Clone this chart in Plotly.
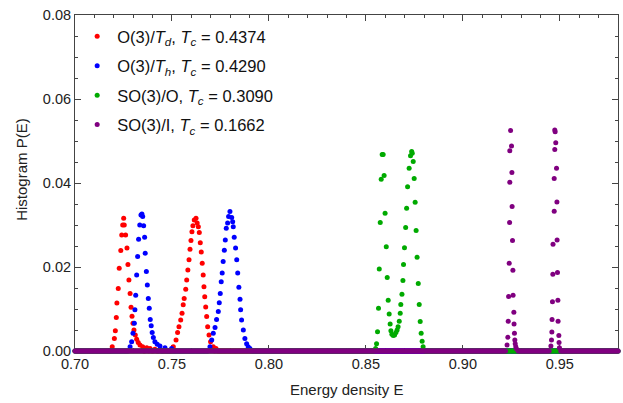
import numpy as np
import plotly.graph_objects as go

# Histogram bins span the whole energy window; bins not listed below hold P(E) = 0
E_MIN, E_MAX, BIN_W = 0.700, 0.980, 0.0005

names = [
    "O(3)/<i>T</i><sub><i>d</i></sub>, <i>T</i><sub><i>c</i></sub> = 0.4374",
    "O(3)/<i>T</i><sub><i>h</i></sub>, <i>T</i><sub><i>c</i></sub> = 0.4290",
    "SO(3)/O, <i>T</i><sub><i>c</i></sub> = 0.3090",
    "SO(3)/I, <i>T</i><sub><i>c</i></sub> = 0.1662",
]
colors = ["#ff0000", "#0000ff", "#00aa00", "#800080"]

# O(3)/T_d : non-empty bins
td_E = [0.7192, 0.7203, 0.7208, 0.7213, 0.7216, 0.7223, 0.7228, 0.7236, 0.7241, 0.7246,
        0.7251, 0.7254, 0.7261, 0.7268, 0.7273, 0.7278, 0.7284, 0.7289, 0.7294, 0.7299,
        0.7304, 0.7311, 0.7318, 0.7326, 0.7335, 0.7349, 0.7370, 0.7387, 0.7412, 0.7438,
        0.7507, 0.7521, 0.7529, 0.7536, 0.7545, 0.7552, 0.7558, 0.7563, 0.7571, 0.7576,
        0.7582, 0.7588, 0.7593, 0.7598, 0.7603, 0.7608, 0.7615, 0.7624, 0.7630, 0.7636,
        0.7641, 0.7646, 0.7651, 0.7656, 0.7661, 0.7665, 0.7669, 0.7674, 0.7679, 0.7684,
        0.7691, 0.7699, 0.7713, 0.7727]
td_P = [0.0010, 0.0030, 0.0048, 0.0080, 0.0114, 0.0149, 0.0197, 0.0239, 0.0276, 0.0300,
        0.0316, 0.0300, 0.0276, 0.0245, 0.0206, 0.0169, 0.0137, 0.0104, 0.0083, 0.0066,
        0.0050, 0.0038, 0.0028, 0.0020, 0.0014, 0.0010, 0.0008, 0.0006, 0.0004, 0.0002,
        0.0010, 0.0026, 0.0044, 0.0058, 0.0074, 0.0090, 0.0110, 0.0125, 0.0147, 0.0169,
        0.0193, 0.0217, 0.0242, 0.0263, 0.0284, 0.0298, 0.0312, 0.0316, 0.0305, 0.0296,
        0.0282, 0.0258, 0.0236, 0.0209, 0.0181, 0.0153, 0.0129, 0.0105, 0.0082, 0.0058,
        0.0038, 0.0022, 0.0010, 0.0006]

# O(3)/T_h : non-empty bins
th_E = [0.7284, 0.7292, 0.7299, 0.7306, 0.7309, 0.7313, 0.7318, 0.7323, 0.7328, 0.7334,
        0.7340, 0.7345, 0.7349, 0.7354, 0.7359, 0.7362, 0.7368, 0.7373, 0.7378, 0.7383,
        0.7388, 0.7393, 0.7398, 0.7404, 0.7412, 0.7424, 0.7438, 0.7464, 0.7498,
        0.7696, 0.7705, 0.7713, 0.7722, 0.7730, 0.7739, 0.7744, 0.7749, 0.7754, 0.7759,
        0.7764, 0.7770, 0.7775, 0.7780, 0.7787, 0.7792, 0.7799, 0.7808, 0.7813, 0.7816,
        0.7821, 0.7828, 0.7834, 0.7839, 0.7845, 0.7851, 0.7854, 0.7859, 0.7868, 0.7876,
        0.7885, 0.7893, 0.7902]
th_P = [0.0010, 0.0022, 0.0042, 0.0066, 0.0098, 0.0133, 0.0181, 0.0225, 0.0266, 0.0300,
        0.0324, 0.0326, 0.0320, 0.0298, 0.0271, 0.0233, 0.0189, 0.0157, 0.0125, 0.0102,
        0.0075, 0.0060, 0.0044, 0.0032, 0.0022, 0.0016, 0.0012, 0.0008, 0.0006,
        0.0010, 0.0026, 0.0042, 0.0056, 0.0075, 0.0094, 0.0115, 0.0137, 0.0165, 0.0186,
        0.0213, 0.0240, 0.0264, 0.0292, 0.0305, 0.0320, 0.0332, 0.0318, 0.0308, 0.0296,
        0.0271, 0.0245, 0.0217, 0.0186, 0.0152, 0.0123, 0.0098, 0.0074, 0.0050, 0.0030,
        0.0017, 0.0010, 0.0006]

# SO(3)/O : non-empty bins
so_E = [0.8550, 0.8555, 0.8560, 0.8565, 0.8569, 0.8574, 0.8579, 0.8584, 0.8589, 0.8594,
        0.8599, 0.8605, 0.8610, 0.8615, 0.8620, 0.8625, 0.8629, 0.8634, 0.8641, 0.8648,
        0.8655, 0.8661, 0.8666, 0.8672, 0.8677, 0.8680, 0.8686, 0.8691, 0.8694, 0.8699,
        0.8705, 0.8710, 0.8715, 0.8723, 0.8730, 0.8736, 0.8739, 0.8744, 0.8749, 0.8754,
        0.8759, 0.8764, 0.8770, 0.8775, 0.8780, 0.8785, 0.8790, 0.8795]
so_P = [0.0006, 0.0017, 0.0046, 0.0102, 0.0195, 0.0306, 0.0409, 0.0468, 0.0468, 0.0418,
        0.0328, 0.0248, 0.0175, 0.0121, 0.0088, 0.0064, 0.0048, 0.0040, 0.0037, 0.0038,
        0.0044, 0.0050, 0.0058, 0.0071, 0.0090, 0.0111, 0.0135, 0.0168, 0.0206, 0.0246,
        0.0294, 0.0340, 0.0391, 0.0435, 0.0465, 0.0475, 0.0471, 0.0451, 0.0411, 0.0354,
        0.0287, 0.0223, 0.0161, 0.0111, 0.0070, 0.0042, 0.0023, 0.0010]

# SO(3)/I : non-empty bins
si_E = [0.9228, 0.9232, 0.9234, 0.9236, 0.9239, 0.9241, 0.9242, 0.9242, 0.9246, 0.9251,
        0.9253, 0.9254, 0.9256, 0.9258, 0.9259, 0.9263, 0.9264, 0.9266, 0.9268, 0.9270,
        0.9273, 0.9277,
        0.9454, 0.9457, 0.9459, 0.9460, 0.9462, 0.9464, 0.9465, 0.9471, 0.9471, 0.9474,
        0.9474, 0.9476, 0.9479, 0.9483, 0.9485, 0.9486, 0.9488, 0.9490, 0.9491, 0.9495,
        0.9496, 0.9498]
si_P = [0.0014, 0.0033, 0.0071, 0.0130, 0.0209, 0.0306, 0.0402, 0.0477, 0.0525, 0.0488,
        0.0425, 0.0344, 0.0263, 0.0192, 0.0133, 0.0092, 0.0064, 0.0042, 0.0026, 0.0017,
        0.0010, 0.0005,
        0.0012, 0.0026, 0.0045, 0.0075, 0.0117, 0.0183, 0.0254, 0.0333, 0.0411, 0.0480,
        0.0526, 0.0522, 0.0496, 0.0435, 0.0355, 0.0264, 0.0187, 0.0121, 0.0071, 0.0037,
        0.0020, 0.0008]

series = [(td_E, td_P), (th_E, th_P), (so_E, so_P), (si_E, si_P)]

bin_centres = np.round(np.arange(E_MIN, E_MAX + BIN_W / 2, BIN_W), 4)


def with_empty_bins(E, P):
    """Add the empty (zero-count) bins that lie away from the filled ones."""
    E = np.asarray(E)
    far = np.array([np.min(np.abs(E - b)) > 1.2 * BIN_W for b in bin_centres])
    x = np.concatenate([bin_centres[far], E])
    y = np.concatenate([np.zeros(far.sum()), np.asarray(P)])
    order = np.argsort(x, kind="stable")
    return x[order], y[order]


fig = go.Figure()
for i, ((E, P), name, col) in enumerate(zip(series, names, colors)):
    x, y = with_empty_bins(E, P)
    fig.add_trace(go.Scatter(
        x=x, y=y, mode="markers", name=name, legendgroup=f"g{i}",
        marker=dict(color=col, size=5, line=dict(width=0)),
        cliponaxis=False,
    ))

FONT = "Arial, Liberation Sans, sans-serif"
axis_common = dict(
    showline=True, linecolor="#444", linewidth=1, mirror="allticks",
    ticks="inside", tickcolor="#444", ticklen=6, tickwidth=1,
    showgrid=False, zeroline=False, layer="below traces",
    tickfont=dict(family=FONT, size=14.5, color="#222"),
    tickformat=".2f",
)

fig.update_xaxes(range=[E_MIN, E_MAX], dtick=0.05, tick0=0.70,
                 minor=dict(ticks="inside", dtick=0.01, ticklen=3, tickcolor="#444"),
                 **axis_common)
fig.update_yaxes(range=[0, 0.08], dtick=0.02, tick0=0,
                 minor=dict(ticks="inside", dtick=0.005, ticklen=3, tickcolor="#444"),
                 **axis_common)

fig.update_layout(
    width=623, height=403,
    margin=dict(l=75, r=5, t=15, b=52),
    paper_bgcolor="white", plot_bgcolor="white",
    font=dict(family=FONT, size=16.5, color="#111"),
    legend=dict(x=0.004, y=0.988, xanchor="left", yanchor="top",
                bgcolor="rgba(0,0,0,0)", tracegroupgap=5,
                font=dict(family=FONT, size=16.5, color="#111"),
                itemsizing="trace"),
    showlegend=True,
    annotations=[
        dict(text="Energy density E", xref="paper", yref="paper", x=0.5, y=-0.116,
             xanchor="center", yanchor="middle", showarrow=False,
             font=dict(family=FONT, size=15, color="#222")),
        dict(text="Histogram P(E)", xref="paper", yref="paper", x=-0.099, y=0.54,
             xanchor="center", yanchor="middle", showarrow=False, textangle=-90,
             font=dict(family=FONT, size=15, color="#222")),
    ],
)

fig.write_html("out.html")
